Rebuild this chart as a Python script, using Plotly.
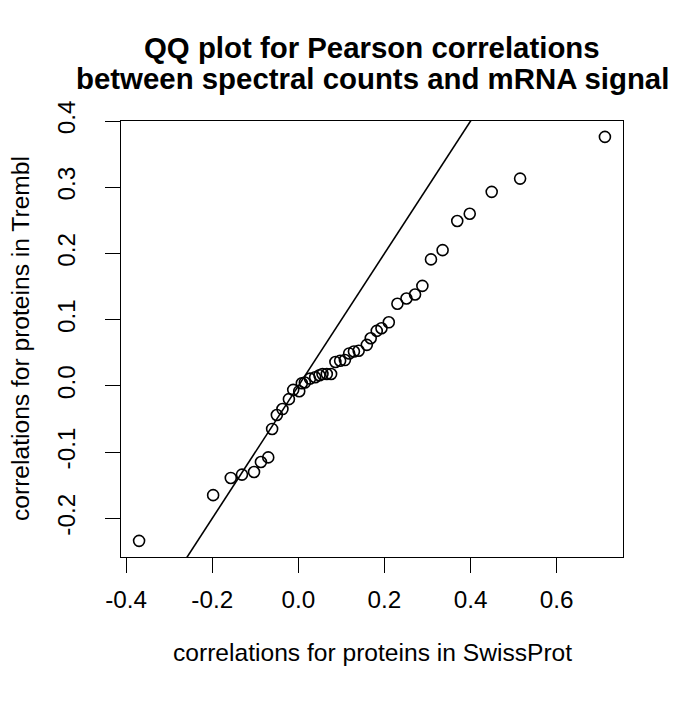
import plotly.graph_objects as go

# Sorted quantiles
swissprot_q = [-0.370, -0.198, -0.157, -0.131, -0.103, -0.087, -0.070, -0.061, -0.050,
               -0.037, -0.022, -0.012, 0.002, 0.008, 0.015, 0.027, 0.039, 0.049, 0.056,
               0.066, 0.076, 0.086, 0.097, 0.108, 0.118, 0.129, 0.140, 0.159, 0.168,
               0.182, 0.193, 0.210, 0.230, 0.251, 0.271, 0.288, 0.308, 0.335, 0.369,
               0.398, 0.449, 0.515, 0.712]
trembl_q = [-0.234, -0.165, -0.139, -0.134, -0.130, -0.115, -0.108, -0.065, -0.044,
            -0.035, -0.020, -0.006, -0.008, 0.004, 0.005, 0.011, 0.013, 0.016, 0.018,
            0.018, 0.018, 0.036, 0.038, 0.039, 0.049, 0.052, 0.053, 0.062, 0.072,
            0.083, 0.087, 0.096, 0.124, 0.132, 0.138, 0.151, 0.191, 0.205, 0.249,
            0.260, 0.293, 0.313, 0.376]

x_ticks = [-0.4, -0.2, 0.0, 0.2, 0.4, 0.6]
y_ticks = [-0.2, -0.1, 0.0, 0.1, 0.2, 0.3, 0.4]
abline_intercept = 0.0
abline_slope = 1.0

title_lines = ["QQ plot for Pearson correlations", "between spectral counts and mRNA signal"]
x_title = "correlations for proteins in SwissProt"
y_title = "correlations for proteins in Trembl"

X_RANGE = [-0.412, 0.754]
Y_RANGE = [-0.2584, 0.4]

# page is offset by the default 8px body margin
OFF = 8
W, H = 685 - OFF, 708 - OFF
# target plot box in page pixels: x 121..623, y 121..557
ML, MR, MT, MB = 121 - OFF, 685 - 623, 121 - OFF, 708 - 557
FONT = "Liberation Sans, Arial, Helvetica, sans-serif"

def px_to_paper_x(px):
    return (px - 121) / (623 - 121)

def py_to_paper_y(py):
    return (557 - py) / (557 - 121)

fig = go.Figure()

# reference line y = a + b x, drawn across the axis range
lx = X_RANGE
ly = [abline_intercept + abline_slope * v for v in lx]
fig.add_trace(go.Scatter(x=lx, y=ly, mode="lines",
                         line=dict(color="black", width=1.6),
                         hoverinfo="skip", showlegend=False))

fig.add_trace(go.Scatter(x=swissprot_q, y=trembl_q, mode="markers",
                         marker=dict(symbol="circle-open", size=11, color="black",
                                     line=dict(color="black", width=1.6)),
                         showlegend=False))

axis_common = dict(showgrid=False, zeroline=False, showline=True, mirror=True,
                   linecolor="black", linewidth=1.3, ticks="outside", ticklen=15,
                   tickwidth=1.3, tickcolor="black",
                   tickfont=dict(family=FONT, size=24.3, color="black"))

fig.update_xaxes(range=X_RANGE, tickvals=x_ticks,
                 ticktext=[f"{v:.1f}" for v in x_ticks],
                 ticklabelstandoff=6, **axis_common)
fig.update_yaxes(range=Y_RANGE, tickvals=y_ticks,
                 ticktext=[f"{v:.1f}" for v in y_ticks],
                 tickangle=-90, ticklabelstandoff=20, **axis_common)

annotations = [
    dict(text=f"<b>{title_lines[0]}</b>", x=px_to_paper_x(372), y=py_to_paper_y(47),
         font=dict(family=FONT, size=29.4, color="black")),
    dict(text=f"<b>{title_lines[1]}</b>", x=px_to_paper_x(372), y=py_to_paper_y(78),
         font=dict(family=FONT, size=29.4, color="black")),
    dict(text=x_title, x=px_to_paper_x(372), y=py_to_paper_y(652),
         font=dict(family=FONT, size=24.6, color="black")),
    dict(text=y_title, x=px_to_paper_x(20), y=py_to_paper_y(339), textangle=-90,
         font=dict(family=FONT, size=24.6, color="black")),
]
for a in annotations:
    a.update(xref="paper", yref="paper", xanchor="center", yanchor="middle",
             showarrow=False)

fig.update_layout(width=W, height=H, margin=dict(l=ML, r=MR, t=MT, b=MB),
                  paper_bgcolor="white", plot_bgcolor="white",
                  annotations=annotations, showlegend=False)

fig.write_html("out.html")
